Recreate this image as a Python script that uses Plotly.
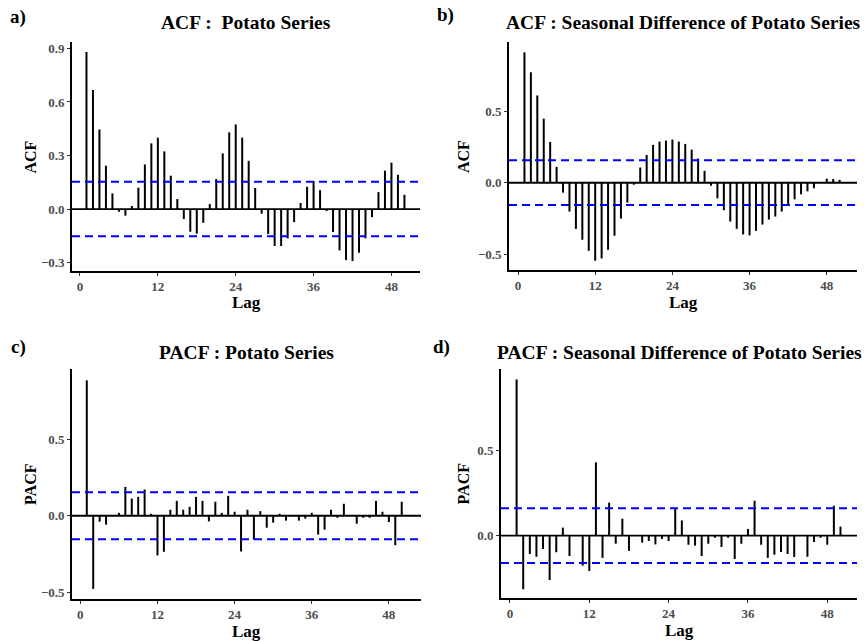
import plotly.graph_objects as go

lags = list(range(1, 51))

acf_potato = [0.88, 0.667, 0.446, 0.243, 0.088, -0.015, -0.037, 0.017, 0.12, 0.25,
              0.368, 0.40, 0.323, 0.187, 0.056, -0.056, -0.127, -0.138, -0.077, 0.028,
              0.168, 0.312, 0.43, 0.474, 0.40, 0.27, 0.118, -0.026, -0.14, -0.207,
              -0.207, -0.164, -0.073, 0.034, 0.125, 0.157, 0.106, -0.011, -0.129, -0.232,
              -0.286, -0.291, -0.245, -0.164, -0.045, 0.095, 0.215, 0.26, 0.192, 0.08]

acf_sdiff = [0.91, 0.771, 0.609, 0.447, 0.285, 0.111, -0.069, -0.201, -0.322, -0.398,
             -0.475, -0.544, -0.528, -0.468, -0.37, -0.25, -0.139, -0.014, 0.106, 0.194,
             0.264, 0.287, 0.294, 0.301, 0.287, 0.271, 0.231, 0.169, 0.083, -0.021,
             -0.109, -0.192, -0.271, -0.322, -0.361, -0.368, -0.336, -0.292, -0.257, -0.236,
             -0.201, -0.150, -0.116, -0.081, -0.06, -0.039, 0.003, 0.028, 0.026, 0.02]

pacf_potato = [0.883, -0.477, -0.039, -0.058, 0.004, 0.019, 0.188, 0.112, 0.123, 0.171,
               0.013, -0.259, -0.235, 0.039, 0.097, 0.039, 0.058, 0.123, 0.097, -0.037,
               0.091, 0.019, 0.13, 0.026, -0.233, 0.039, -0.156, 0.03, -0.078, -0.045,
               0.013, -0.032, 0.003, -0.032, -0.019, 0.019, -0.123, -0.091, 0.039, -0.013,
               0.078, 0.003, -0.052, -0.013, -0.013, 0.097, 0.026, -0.041, -0.192, 0.091]

pacf_sdiff = [0.912, -0.313, -0.107, -0.123, -0.078, -0.259, -0.097, 0.047, -0.119, 0.003,
              -0.175, -0.206, 0.428, -0.130, 0.193, -0.047, 0.099, -0.089, 0.003, -0.041,
              -0.031, -0.051, -0.019, -0.031, 0.156, 0.089, -0.053, -0.058, -0.119, -0.047,
              -0.012, -0.066, -0.012, -0.136, -0.047, 0.039, 0.204, -0.053, -0.130, -0.111,
              -0.095, -0.107, -0.125, 0.003, -0.123, -0.037, -0.012, -0.053, 0.175, 0.053]

conf_limits = [0.153, 0.156, 0.153, 0.16]
x_tick_vals = [0, 12, 24, 36, 48]

panel_titles = ["ACF :  Potato Series",
                "ACF : Seasonal Difference of Potato Series",
                "PACF : Potato Series",
                "PACF : Seasonal Difference of Potato Series"]
panel_letters = ["a)", "b)", "c)", "d)"]
y_titles = ["ACF", "ACF", "PACF", "PACF"]
y_tick_sets = [[-0.3, 0.0, 0.3, 0.6, 0.9], [-0.5, 0.0, 0.5], [-0.5, 0.0, 0.5], [0.0, 0.5]]

W, H = 866, 641
FONT = "Liberation Serif"


def px(x):
    return x / W


def py(y):
    return 1 - y / H


# panel boxes in pixels: x0, x1, ytop, ybottom
boxes = [(72, 420, 42, 271), (509, 857, 42, 270), (72, 421, 369, 599), (501, 857, 369, 598)]
x_ranges = [[-1.23, 52.4], [-1.4, 52.7], [-1.3, 53.0], [-1.36, 52.5]]
y_ranges = [[-0.347, 0.936], [-0.609, 0.982], [-0.543, 0.957], [-0.364, 0.973]]
series = [acf_potato, acf_sdiff, pacf_potato, pacf_sdiff]

fig = go.Figure()
layout = {}
annotations = []
shapes = []

for i in range(4):
    sfx = "" if i == 0 else str(i + 1)
    xs, ys = [], []
    for k, v in zip(lags, series[i]):
        xs += [k, k, None]
        ys += [0, v, None]
    fig.add_trace(go.Scatter(x=xs, y=ys, mode="lines", line=dict(color="black", width=2),
                             xaxis="x" + sfx, yaxis="y" + sfx, showlegend=False,
                             hoverinfo="skip"))
    x0, x1, yt, yb = boxes[i]
    tickfont = dict(family=FONT, size=13, color="#4D4D4D", weight="bold")
    layout["xaxis" + sfx] = dict(domain=[px(x0), px(x1)], range=x_ranges[i], anchor="y" + sfx,
                                 showline=True, linecolor="black", linewidth=1.6,
                                 ticks="outside", ticklen=3, tickwidth=1.2, tickcolor="#333333",
                                 tickvals=x_tick_vals, tickfont=tickfont, showgrid=False,
                                 zeroline=False, automargin=False)
    layout["yaxis" + sfx] = dict(domain=[py(yb), py(yt)], range=y_ranges[i], anchor="x" + sfx,
                                 showline=True, linecolor="black", linewidth=1.6,
                                 ticks="outside", ticklen=3, tickwidth=1.2, tickcolor="#333333",
                                 tickvals=y_tick_sets[i], tickformat=".1f", tickfont=tickfont,
                                 showgrid=False, zeroline=False, automargin=False)
    xr = "x" + sfx + " domain"
    yr = "y" + sfx
    shapes.append(dict(type="line", xref=xr, yref=yr, x0=0, x1=1, y0=0, y1=0,
                       line=dict(color="black", width=1.8), layer="above"))
    for sgn in (1, -1):
        shapes.append(dict(type="line", xref=xr, yref=yr, x0=0, x1=1,
                           y0=sgn * conf_limits[i], y1=sgn * conf_limits[i],
                           line=dict(color="#0000FF", width=2, dash="8px,5px"), layer="above"))
    cx = (x0 + x1) / 2
    ty = 22 if i < 2 else 352
    annotations.append(dict(text="<b>" + panel_titles[i] + "</b>", x=px(cx), y=py(ty),
                            xref="paper", yref="paper", showarrow=False,
                            xanchor="center", yanchor="middle",
                            font=dict(family=FONT, size=19.5, color="black")))
    annotations.append(dict(text="<b>Lag</b>", x=px(cx), y=py(yb + 32),
                            xref="paper", yref="paper", showarrow=False,
                            xanchor="center", yanchor="middle",
                            font=dict(family=FONT, size=17, color="black")))
    annotations.append(dict(text="<b>" + y_titles[i] + "</b>", x=px(30 if i % 2 == 0 else 463),
                            y=py((yt + yb) / 2), xref="paper", yref="paper", showarrow=False,
                            textangle=-90, xanchor="center", yanchor="middle",
                            font=dict(family=FONT, size=16, color="black")))

letter_pos = [(18, 17), (446, 15), (18, 347), (441, 347)]
for (lx, ly), lt in zip(letter_pos, panel_letters):
    annotations.append(dict(text="<b>" + lt + "</b>", x=px(lx), y=py(ly), xref="paper",
                            yref="paper", showarrow=False, xanchor="center", yanchor="middle",
                            font=dict(family=FONT, size=19, color="black")))

fig.update_layout(width=W, height=H, margin=dict(l=0, r=0, t=0, b=0),
                  paper_bgcolor="white", plot_bgcolor="white",
                  annotations=annotations, shapes=shapes, **layout)

fig.write_html("out.html", config={"displayModeBar": False},
               post_script="document.body.style.margin='0px';document.body.style.overflow='hidden';")
